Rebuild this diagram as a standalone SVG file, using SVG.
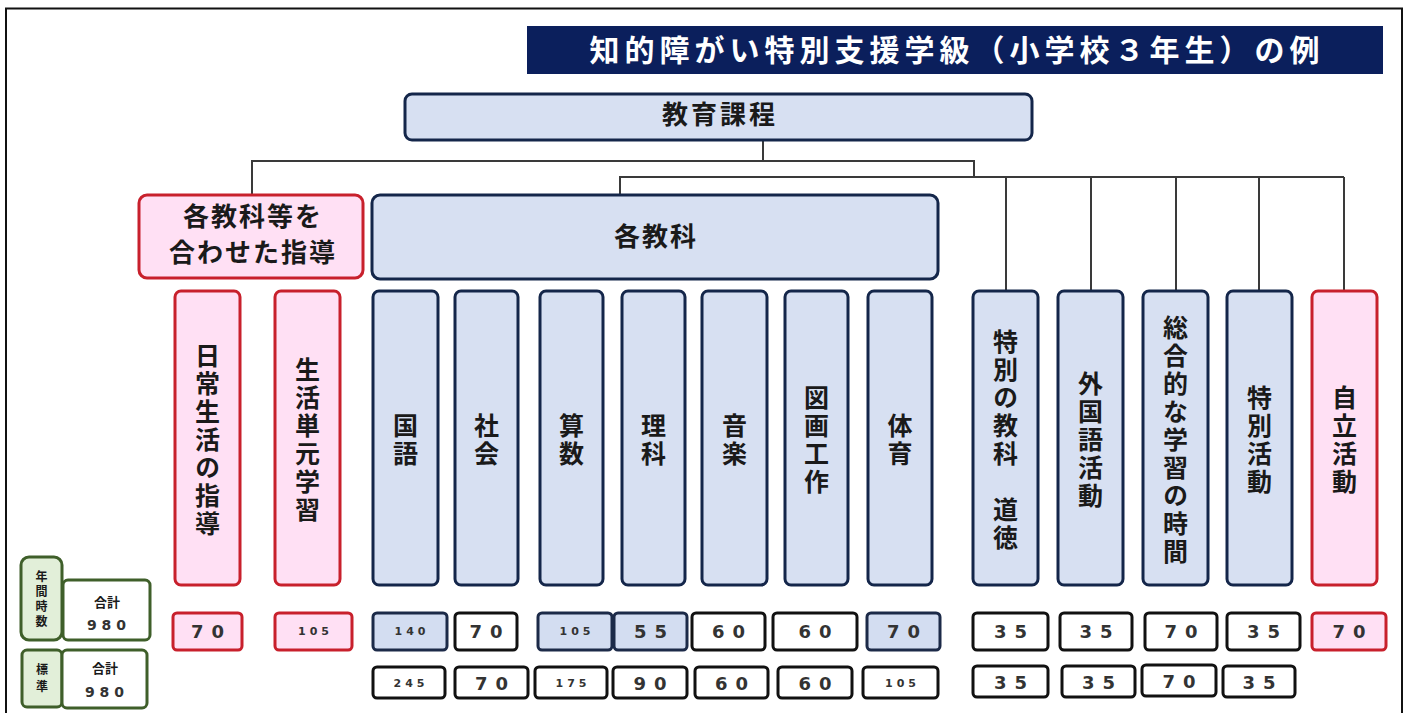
<svg xmlns="http://www.w3.org/2000/svg" width="1410" height="713" viewBox="0 0 1410 713">
<style>
.jp{font-family:"Noto Sans CJK JP","Noto Sans CJK SC",sans-serif;font-weight:bold;fill:#1a1a1a}
.num{font-family:"DejaVu Sans","Liberation Sans",sans-serif;font-weight:bold;fill:#333}
.pink{fill:#ffe0f4;stroke:#c8202c;stroke-width:3}
.blue{fill:#d7e0f2;stroke:#14264a;stroke-width:3}
.wbox{fill:#ffffff;stroke:#111111;stroke-width:3}
.nblue{fill:#d3ddf1;stroke:#1c2a48;stroke-width:3}
.npink{fill:#ffe0f4;stroke:#c8202c;stroke-width:3}
.gfill{fill:#e2efd9;stroke:#3f5f2a;stroke-width:3}
.gwhite{fill:#ffffff;stroke:#3f5f2a;stroke-width:3}
.conn{fill:none;stroke:#3a3a3a;stroke-width:2}
.vt{font-size:25px;letter-spacing:3px;text-anchor:middle;writing-mode:vertical-rl;text-orientation:upright}
.vs{font-size:12px;letter-spacing:3px;text-anchor:middle;writing-mode:vertical-rl;text-orientation:upright}
.n2{font-size:18px;letter-spacing:8px;text-anchor:middle}
.n3{font-size:11px;letter-spacing:4px;text-anchor:middle}
</style>
<rect x="0" y="0" width="1410" height="713" fill="#ffffff"/>
<rect x="6" y="8.5" width="1396" height="712" fill="none" stroke="#111" stroke-width="2"/>

<g id="title">
<rect x="527" y="26" width="856" height="48" fill="#0b1f5c"/>
<text class="jp" x="957" y="61" font-size="30" letter-spacing="5" text-anchor="middle" style="fill:#ffffff">知的障がい特別支援学級（小学校３年生）の例</text>
</g>

<g id="connectors">
<path class="conn" d="M763 141V161M252 195V161H974V177M620 195V177H1344M1006 177V291M1091 177V291M1176 177V291M1259 177V291M1344 177V291"/>
</g>

<g id="kyouiku">
<rect class="blue" x="405" y="94" width="627" height="46" rx="7"/>
<text class="jp" x="720" y="124" font-size="26" letter-spacing="3" text-anchor="middle">教育課程</text>
</g>

<g id="awaseta">
<rect class="pink" x="139" y="195" width="224" height="83" rx="8"/>
<text class="jp" x="253" y="226" font-size="26" letter-spacing="2" text-anchor="middle">各教科等を</text>
<text class="jp" x="253" y="262" font-size="26" letter-spacing="2" text-anchor="middle">合わせた指導</text>
</g>

<g id="kakukyouka">
<rect class="blue" x="372" y="195" width="566" height="84" rx="8"/>
<text class="jp" x="656" y="246" font-size="26" letter-spacing="2" text-anchor="middle">各教科</text>
</g>

<g id="nichijou">
<rect class="pink" x="175" y="291" width="65" height="294" rx="6"/>
<text class="jp vt" x="207.5" y="441">日常生活の指導</text>
</g>

<g id="seikatsu">
<rect class="pink" x="275" y="291" width="65" height="294" rx="6"/>
<text class="jp vt" x="307.5" y="441">生活単元学習</text>
</g>

<g id="kokugo">
<rect class="blue" x="373" y="291" width="65" height="294" rx="6"/>
<text class="jp vt" x="405.5" y="441">国語</text>
</g>

<g id="shakai">
<rect class="blue" x="455" y="291" width="63" height="294" rx="6"/>
<text class="jp vt" x="486.5" y="441">社会</text>
</g>

<g id="sansu">
<rect class="blue" x="540" y="291" width="63" height="294" rx="6"/>
<text class="jp vt" x="571.5" y="441">算数</text>
</g>

<g id="rika">
<rect class="blue" x="622" y="291" width="63" height="294" rx="6"/>
<text class="jp vt" x="653.5" y="441">理科</text>
</g>

<g id="ongaku">
<rect class="blue" x="702" y="291" width="65" height="294" rx="6"/>
<text class="jp vt" x="734.5" y="441">音楽</text>
</g>

<g id="zuga">
<rect class="blue" x="785" y="291" width="63" height="294" rx="6"/>
<text class="jp vt" x="816.5" y="441">図画工作</text>
</g>

<g id="taiiku">
<rect class="blue" x="868" y="291" width="64" height="294" rx="6"/>
<text class="jp vt" x="900" y="441">体育</text>
</g>

<g id="doutoku">
<rect class="blue" x="973" y="291" width="65" height="294" rx="6"/>
<text class="jp vt" x="1005.5" y="441">特別の教科　道徳</text>
</g>

<g id="gaikokugo">
<rect class="blue" x="1058" y="291" width="65" height="294" rx="6"/>
<text class="jp vt" x="1090.5" y="441">外国語活動</text>
</g>

<g id="sougou">
<rect class="blue" x="1143" y="291" width="65" height="294" rx="6"/>
<text class="jp vt" x="1175.5" y="441">総合的な学習の時間</text>
</g>

<g id="tokkatsu">
<rect class="blue" x="1227" y="291" width="65" height="294" rx="6"/>
<text class="jp vt" x="1259.5" y="441">特別活動</text>
</g>

<g id="jiritsu">
<rect class="pink" x="1312" y="291" width="65" height="294" rx="6"/>
<text class="jp vt" x="1344.5" y="441">自立活動</text>
</g>

<g id="label-nenkan">
<rect class="gfill" x="21" y="557" width="41" height="83" rx="8"/>
<text class="jp vs" x="41.5" y="600">年間時数</text>
<rect class="gwhite" x="63" y="580" width="87" height="60" rx="5"/>
<text class="jp" x="107" y="607" font-size="13" text-anchor="middle">合計</text>
<text class="num" x="109" y="630" font-size="14" letter-spacing="5" text-anchor="middle">980</text>
</g>

<g id="label-hyoujun">
<rect class="gfill" x="22" y="650" width="40" height="57" rx="5"/>
<text class="jp vs" x="42" y="680" style="letter-spacing:5px">標準</text>
<rect class="gwhite" x="62" y="650" width="85" height="58" rx="5"/>
<text class="jp" x="105" y="673" font-size="13" text-anchor="middle">合計</text>
<text class="num" x="107" y="697" font-size="14" letter-spacing="5" text-anchor="middle">980</text>
</g>

<g id="hours-annual">
<rect class="npink" x="173" y="613" width="69" height="37" rx="4"/><text class="num n2" x="211.5" y="638">70</text>
<rect class="npink" x="275" y="613" width="77" height="37" rx="4"/><text class="num n3" x="315.5" y="635">105</text>
<rect class="nblue" x="373" y="613" width="74" height="37" rx="4"/><text class="num n3" x="412" y="635">140</text>
<rect class="wbox" x="455" y="613" width="62" height="37" rx="4"/><text class="num n2" x="490" y="638">70</text>
<rect class="nblue" x="538" y="613" width="74" height="37" rx="4"/><text class="num n3" x="577" y="635">105</text>
<rect class="nblue" x="614" y="613" width="73" height="37" rx="4"/><text class="num n2" x="654.5" y="638">55</text>
<rect class="wbox" x="692" y="613" width="73" height="37" rx="4"/><text class="num n2" x="732.5" y="638">60</text>
<rect class="wbox" x="773" y="613" width="84" height="37" rx="4"/><text class="num n2" x="819" y="638">60</text>
<rect class="nblue" x="867" y="613" width="73" height="37" rx="4"/><text class="num n2" x="907.5" y="638">70</text>
<rect class="wbox" x="973" y="613" width="75" height="37" rx="4"/><text class="num n2" x="1014.5" y="638">35</text>
<rect class="wbox" x="1060" y="613" width="72" height="37" rx="4"/><text class="num n2" x="1100" y="638">35</text>
<rect class="wbox" x="1145" y="613" width="72" height="37" rx="4"/><text class="num n2" x="1185" y="638">70</text>
<rect class="wbox" x="1227" y="613" width="73" height="37" rx="4"/><text class="num n2" x="1267.5" y="638">35</text>
<rect class="npink" x="1312" y="613" width="74" height="37" rx="4"/><text class="num n2" x="1353" y="638">70</text>
</g>

<g id="hours-standard">
<rect class="wbox" x="373" y="667" width="72" height="31" rx="4"/><text class="num n3" x="411" y="687">245</text>
<rect class="wbox" x="455" y="667" width="73" height="31" rx="4"/><text class="num n2" x="495.5" y="690">70</text>
<rect class="wbox" x="535" y="667" width="72" height="31" rx="4"/><text class="num n3" x="573" y="687">175</text>
<rect class="wbox" x="613" y="667" width="74" height="31" rx="4"/><text class="num n2" x="654" y="690">90</text>
<rect class="wbox" x="695" y="667" width="73" height="31" rx="4"/><text class="num n2" x="735.5" y="690">60</text>
<rect class="wbox" x="778" y="667" width="74" height="31" rx="4"/><text class="num n2" x="819" y="690">60</text>
<rect class="wbox" x="863" y="667" width="75" height="31" rx="4"/><text class="num n3" x="902.5" y="687">105</text>
<rect class="wbox" x="973" y="666" width="75" height="31" rx="4"/><text class="num n2" x="1014.5" y="689">35</text>
<rect class="wbox" x="1062" y="666" width="73" height="31" rx="4"/><text class="num n2" x="1102.5" y="689">35</text>
<rect class="wbox" x="1142" y="665" width="74" height="31" rx="4"/><text class="num n2" x="1183" y="688">70</text>
<rect class="wbox" x="1223" y="666" width="72" height="31" rx="4"/><text class="num n2" x="1263" y="689">35</text>
</g>
</svg>
